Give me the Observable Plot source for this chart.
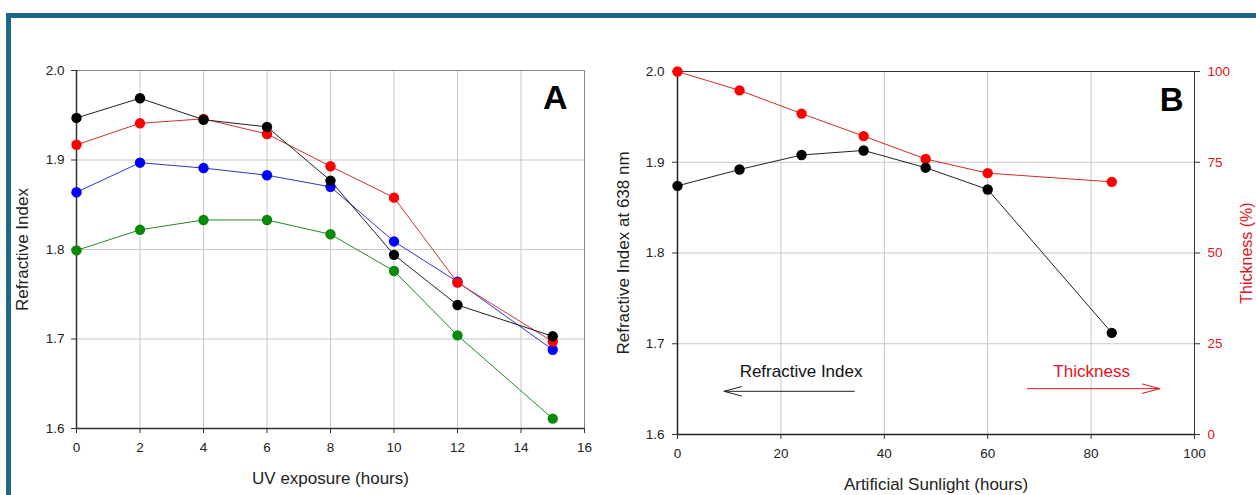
<!DOCTYPE html>
<html><head><meta charset="utf-8">
<script src="https://cdn.jsdelivr.net/npm/d3@7"></script>
<script src="https://cdn.jsdelivr.net/npm/@observablehq/plot@0.6"></script>
<style>
body{margin:0;background:#fff;width:1256px;height:495px;overflow:hidden;position:relative;font-family:"Liberation Sans",Arial,sans-serif;}
#frame{position:absolute;left:6px;top:13px;width:1270px;height:510px;border:5px solid #1d6889;box-sizing:border-box;}
#a{position:absolute;left:0;top:0}
#b{position:absolute;left:600px;top:0}
svg{overflow:hidden}
</style></head><body>
<div id="frame"></div><div id="a"></div><div id="b"></div>
<script>
// Panel A: UV exposure
const uvHours = [0, 2, 4, 6, 8, 10, 12, 15];
const riBlackA = [1.947, 1.969, 1.945, 1.937, 1.877, 1.794, 1.738, 1.703];
const riRedA   = [1.917, 1.941, 1.946, 1.929, 1.893, 1.858, 1.763, 1.697];
const riBlueA  = [1.864, 1.897, 1.891, 1.883, 1.870, 1.809, 1.764, 1.688];
const riGreenA = [1.799, 1.822, 1.833, 1.833, 1.817, 1.776, 1.704, 1.611];
const uvTicks = [0, 2, 4, 6, 8, 10, 12, 14, 16];
const riTicks = [1.6, 1.7, 1.8, 1.9, 2.0];

// Panel B: artificial sunlight
const sunHours = [0, 12, 24, 36, 48, 60, 84];
const riB = [1.874, 1.892, 1.908, 1.913, 1.894, 1.870, 1.712];
const thicknessB = [100, 94.8, 88.4, 82.2, 75.9, 72.0, 69.6];
const sunTicks = [0, 20, 40, 60, 80, 100];
const thickTicks = [0, 25, 50, 75, 100];

const font = "Liberation Sans, Arial, sans-serif";
const tickFont = 13.5;
const seriesA = [
  {name: "green", values: riGreenA, line: "#1f8a1f", dot: "#0a8a0a"},
  {name: "blue", values: riBlueA, line: "#3333cc", dot: "#0000ff"},
  {name: "red", values: riRedA, line: "#cc3333", dot: "#ff0000"},
  {name: "black", values: riBlackA, line: "#222", dot: "#000"}
];
const rowsA = seriesA.flatMap(s => uvHours.map((h, i) => ({series: s.name, h, ri: s.values[i]})));
const lineColor = Object.fromEntries(seriesA.map(s => [s.name, s.line]));
const dotColor = Object.fromEntries(seriesA.map(s => [s.name, s.dot]));

const chartA = Plot.plot({
  width: 620, height: 495,
  marginLeft: 76, marginRight: 36, marginTop: 70, marginBottom: 67,
  style: {fontFamily: font, fontSize: "13.5px", background: "transparent", color: "#222", overflow: "hidden"},
  x: {domain: [0, 16]},
  y: {domain: [1.6, 2.0]},
  marks: [
    Plot.gridX(uvTicks, {stroke: "#c8c8c8", strokeOpacity: 1}),
    Plot.gridY(riTicks, {stroke: "#c8c8c8", strokeOpacity: 1}),
    Plot.frame({stroke: "#8a8a8a"}),
    Plot.axisX({ticks: uvTicks, tickSize: 5, tickPadding: 9, label: null, stroke: "#333", fontSize: tickFont}),
    Plot.axisY({ticks: riTicks, tickFormat: d3.format(".1f"), tickSize: 5, tickPadding: 7, label: null, stroke: "#333", fontSize: tickFont}),
    Plot.ruleX([0], {stroke: "#333", strokeWidth: 1.5}),
    Plot.ruleY([1.6], {stroke: "#333", strokeWidth: 1.5}),
    ...seriesA.map(s => Plot.line(rowsA.filter(d => d.series === s.name), {x: "h", y: "ri", stroke: lineColor[s.name], strokeWidth: 1})),
    ...seriesA.map(s => Plot.dot(rowsA.filter(d => d.series === s.name), {x: "h", y: "ri", r: 5.2, fill: dotColor[s.name], stroke: "none"})),
    Plot.text(["A"], {frameAnchor: "top-right", dx: -17, dy: 14, lineAnchor: "top", textAnchor: "end", fontSize: 34, fontWeight: "bold", fill: "#000"}),
    Plot.text(["UV exposure (hours)"], {frameAnchor: "bottom", dy: 50, lineAnchor: "middle", fontSize: 17, fill: "#222"}),
    Plot.text(["Refractive Index"], {frameAnchor: "left", dx: -54, rotate: -90, lineAnchor: "middle", textAnchor: "middle", fontSize: 17, fill: "#222"})
  ]
});
document.getElementById("a").append(chartA);

// Right axis: thickness (%) is mapped onto the refractive index range 1.6–2.0
const tToRi = t => 1.6 + t * 0.004;
const rowsB = sunHours.map((h, i) => ({h, ri: riB[i], thick: tToRi(thicknessB[i])}));

const chartB = Plot.plot({
  width: 656, height: 495,
  marginLeft: 77, marginRight: 62, marginTop: 71, marginBottom: 61,
  style: {fontFamily: font, fontSize: "13.5px", background: "transparent", color: "#222", overflow: "hidden"},
  x: {domain: [0, 100]},
  y: {domain: [1.6, 2.0]},
  marks: [
    Plot.gridX(sunTicks, {stroke: "#c8c8c8", strokeOpacity: 1}),
    Plot.gridY(riTicks, {stroke: "#c8c8c8", strokeOpacity: 1}),
    Plot.frame({stroke: "#333"}),
    Plot.axisX({ticks: sunTicks, tickSize: 5, tickPadding: 9, label: null, stroke: "#333", fontSize: tickFont}),
    Plot.axisY({ticks: riTicks, tickFormat: d3.format(".1f"), tickSize: 5, tickPadding: 8, label: null, stroke: "#333", fontSize: tickFont}),
    Plot.axisY({anchor: "right", ticks: thickTicks.map(tToRi), tickFormat: v => String(Math.round((v - 1.6) / 0.004)), tickSize: 5, tickPadding: 8, label: null, stroke: "#333", color: "#e3141b", fontSize: tickFont}),
    Plot.ruleX([0], {stroke: "#222", strokeWidth: 1.5}),
    Plot.ruleY([1.6], {stroke: "#222", strokeWidth: 1.5}),
    Plot.line(rowsB, {x: "h", y: "thick", stroke: "#d42a2a", strokeWidth: 1}),
    Plot.dot(rowsB, {x: "h", y: "thick", r: 5.2, fill: "#ff0000", stroke: "none"}),
    Plot.line(rowsB, {x: "h", y: "ri", stroke: "#222", strokeWidth: 1}),
    Plot.dot(rowsB, {x: "h", y: "ri", r: 5.2, fill: "#000", stroke: "none"}),
    Plot.arrow([{x1: 34.2, y1: 1.6476, x2: 9.0, y2: 1.6476}], {x1: "x1", y1: "y1", x2: "x2", y2: "y2", stroke: "#222", strokeWidth: 1, headAngle: 30, headLength: 27}),
    Plot.arrow([{x1: 67.7, y1: 1.6505, x2: 93.3, y2: 1.6505}], {x1: "x1", y1: "y1", x2: "x2", y2: "y2", stroke: "#e3141b", strokeWidth: 1, headAngle: 30, headLength: 27}),
    Plot.text([{x: 23.9, y: 1.669, t: "Refractive Index"}], {x: "x", y: "y", text: "t", fontSize: 17, fill: "#111"}),
    Plot.text([{x: 80.1, y: 1.669, t: "Thickness"}], {x: "x", y: "y", text: "t", fontSize: 17, fill: "#e3141b"}),
    Plot.text(["B"], {frameAnchor: "top-right", dx: -11, dy: 16, lineAnchor: "top", textAnchor: "end", fontSize: 33, fontWeight: "bold", fill: "#000"}),
    Plot.text(["Artificial Sunlight (hours)"], {frameAnchor: "bottom", dy: 50, lineAnchor: "middle", fontSize: 17, fill: "#222"}),
    Plot.text(["Refractive Index at 638 nm"], {frameAnchor: "left", dx: -54, rotate: -90, lineAnchor: "middle", textAnchor: "middle", fontSize: 17, fill: "#222"}),
    Plot.text(["Thickness (%)"], {frameAnchor: "right", dx: 52, rotate: -90, lineAnchor: "middle", textAnchor: "middle", fontSize: 16, fill: "#e3141b"})
  ]
});
document.getElementById("b").append(chartB);
</script>
</body></html>
